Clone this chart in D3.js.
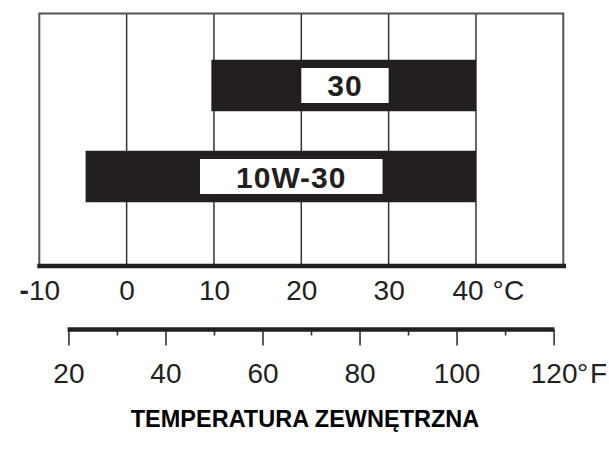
<!DOCTYPE html>
<html>
<head>
<meta charset="utf-8">
<script src="https://cdn.jsdelivr.net/npm/d3@7"></script>
<style>
  html, body { margin: 0; padding: 0; background: #fff; }
  svg { display: block; font-family: "Liberation Sans", Arial, Helvetica, sans-serif; }
</style>
</head>
<body>
<svg id="chart" width="609" height="450"></svg>
<script>
// ---- data ----
const grades = ["30", "10W-30"];
const rangeFrom = [9.7, -4.7];     // °C lower limit of bar
const rangeTo = [40, 40];          // °C upper limit of bar
const labelFrom = [20, 8.4];       // °C left of white label box
const labelTo = [30, 29.3];        // °C right of white label box
const celsiusTicks = [-10, 0, 10, 20, 30, 40];
const celsiusGrid = [0, 10, 20, 30, 40];
const fahrenheitTicks = [20, 40, 60, 80, 100, 120];
const fahrenheitMinor = [30, 50, 70, 90, 110];
const celsiusDomain = [-10, 50];
const fahrenheitDomain = [20, 120];
const titleText = "TEMPERATURA ZEWN\u0118TRZNA";

// ---- layout ----
const svg = d3.select("#chart");
const ink = "#231f20";
const plotTop = 13.5, plotBottom = 266;

const x = d3.scaleLinear().domain(celsiusDomain).range([39.3, 563.3]);
const xF = d3.scaleLinear().domain([32, 122]).range([x(0), x(50)]);
const y = d3.scalePoint().domain(grades).range([85.5, 176.5]);
const barH = 51.5, boxH = 35;
const fmt = d => String(Math.abs(d));

// grid lines
svg.append("g").selectAll("line").data(celsiusGrid).join("line")
  .attr("x1", d => x(d)).attr("x2", d => x(d))
  .attr("y1", plotTop).attr("y2", plotBottom)
  .attr("stroke", "#333").attr("stroke-width", 1.5);

// frame (top, left, right)
svg.append("path")
  .attr("d", `M${x(celsiusDomain[0])},${plotBottom}V${plotTop}H${x(celsiusDomain[1])}V${plotBottom}`)
  .attr("fill", "none").attr("stroke", "#555").attr("stroke-width", 2);

// bars
const rows = grades.map((g, i) => ({ g, from: rangeFrom[i], to: rangeTo[i], lf: labelFrom[i], lt: labelTo[i] }));
const rg = svg.append("g").selectAll("g").data(rows).join("g");
rg.append("rect")
  .attr("x", d => x(d.from)).attr("width", d => x(d.to) - x(d.from))
  .attr("y", d => y(d.g) - barH / 2).attr("height", barH)
  .attr("fill", ink);
rg.append("rect")
  .attr("x", d => x(d.lf)).attr("width", d => x(d.lt) - x(d.lf))
  .attr("y", d => y(d.g) - boxH / 2).attr("height", boxH)
  .attr("fill", "#fff");
rg.append("text")
  .attr("x", d => (x(d.lf) + x(d.lt)) / 2)
  .attr("y", (d, i) => y(d.g) + 10.5 + i * 0.5)
  .attr("text-anchor", "middle")
  .attr("font-size", 30).attr("font-weight", "bold")
  .attr("letter-spacing", 1)
  .attr("fill", ink)
  .text(d => d.g);

// Celsius axis
const cAxis = svg.append("g").attr("transform", `translate(0,${plotBottom})`)
  .call(d3.axisBottom(x).tickValues(celsiusTicks).tickSize(0).tickFormat(fmt));
cAxis.select(".domain").remove();
cAxis.selectAll(".tick text")
  .attr("y", 34).attr("dy", 0)
  .attr("font-size", 28).attr("fill", "#222")
  .attr("font-family", "'Liberation Sans', Arial, sans-serif");
cAxis.selectAll(".tick").filter(d => d < 0).select("text").each(function (d) {
  const t = d3.select(this);
  t.text(null);
  t.append("tspan").attr("font-weight", "bold").text("-");
  t.append("tspan").text(Math.abs(d));
});
cAxis.selectAll(".tick").filter(d => d === 40).each(function () {
  const t = d3.select(this);
  t.select("text").attr("x", -8.5);
  t.append("text").attr("x", 16).attr("y", 34).attr("text-anchor", "start")
    .attr("font-size", 28).attr("fill", "#222").text("\u00b0");
  t.append("text").attr("x", 27.5).attr("y", 34).attr("text-anchor", "start")
    .attr("font-size", 28).attr("fill", "#222").text("C");
});
svg.append("line")
  .attr("x1", x(celsiusDomain[0]) - 2).attr("x2", x(celsiusDomain[1]) + 2.7)
  .attr("y1", plotBottom).attr("y2", plotBottom)
  .attr("stroke", ink).attr("stroke-width", 4.5);

// Fahrenheit axis
const fy = 329.5;
const fAxis = svg.append("g").attr("transform", `translate(0,${fy})`)
  .call(d3.axisBottom(xF).tickValues(fahrenheitTicks).tickSize(16).tickFormat(fmt));
fAxis.select(".domain").remove();
fAxis.selectAll(".tick line").attr("stroke", "#333").attr("stroke-width", 1.6);
fAxis.selectAll(".tick text")
  .attr("y", 53.5).attr("dy", 0)
  .attr("font-size", 28).attr("fill", "#222")
  .attr("font-family", "'Liberation Sans', Arial, sans-serif");
fAxis.selectAll(".tick").filter(d => d === 120).each(function () {
  const t = d3.select(this);
  t.append("text").attr("x", 23).attr("y", 53.5).attr("text-anchor", "start")
    .attr("font-size", 28).attr("fill", "#222").text("\u00b0");
  t.append("text").attr("x", 36).attr("y", 53.5).attr("text-anchor", "start")
    .attr("font-size", 28).attr("fill", "#222").text("F");
});
const fMinor = svg.append("g").attr("transform", `translate(0,${fy})`)
  .call(d3.axisBottom(xF).tickValues(fahrenheitMinor).tickSize(6).tickFormat(""));
fMinor.select(".domain").remove();
fMinor.selectAll(".tick line").attr("stroke", "#333").attr("stroke-width", 1.6);
svg.append("line")
  .attr("x1", xF(fahrenheitDomain[0]) - 0.8).attr("x2", xF(fahrenheitDomain[1]) + 0.8)
  .attr("y1", fy).attr("y2", fy)
  .attr("stroke", ink).attr("stroke-width", 4.5);

// title
svg.append("text")
  .attr("x", 305).attr("y", 427)
  .attr("text-anchor", "middle")
  .attr("font-size", 23.5).attr("font-weight", "bold")
  .attr("fill", "#000")
  .text(titleText);
</script>
</body>
</html>
